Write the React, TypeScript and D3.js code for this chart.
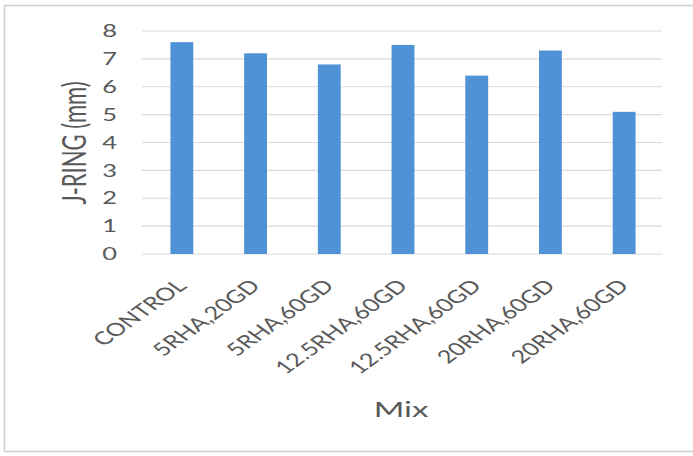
import React from "react";
import * as d3 from "d3";

const categories = [
  "CONTROL",
  "5RHA,20GD",
  "5RHA,60GD",
  "12.5RHA,60GD",
  "12.5RHA,60GD",
  "20RHA,60GD",
  "20RHA,60GD",
];
const jRing = [7.6, 7.2, 6.8, 7.5, 6.4, 7.3, 5.1];
const yTicks = [0, 1, 2, 3, 4, 5, 6, 7, 8];

const W = 693;
const H = 456;
const FONT = "Lato, 'Open Sans', sans-serif";
const TEXT = "#595959";
// horizontal stretch applied to labels
const SX = 1.5;
const SX_CAT = 1.4;

export default function App() {
  const idx = categories.map((_, i) => String(i));
  const x = d3
    .scaleBand<string>()
    .domain(idx)
    .range([145, 661])
    .paddingInner(0.69)
    .paddingOuter(0.345);
  const y = d3.scaleLinear().domain([0, 8]).range([254, 31]);

  return (
    <svg
      width={W}
      height={H}
      style={{ position: "absolute", left: 0, top: 0, background: "#fff" }}
    >
      <rect x={0} y={0} width={W} height={H} fill="#fff" />
      {/* chart frame */}
      <rect
        x={4.5}
        y={5.5}
        width={W + 10}
        height={446}
        fill="#fff"
        stroke="#cfcfcf"
        strokeWidth={1.5}
      />
      {/* gridlines */}
      {yTicks.map((t) => (
        <line
          key={"g" + t}
          x1={142}
          x2={662}
          y1={y(t)}
          y2={y(t)}
          stroke="#dadada"
          strokeWidth={1.2}
        />
      ))}
      {/* bars */}
      {jRing.map((v, i) => (
        <rect
          key={"b" + i}
          x={x(String(i))!}
          y={y(v)}
          width={x.bandwidth()}
          height={y(0) - y(v)}
          fill="#4f93d6"
        />
      ))}
      {/* y tick labels */}
      {yTicks.map((t) => (
        <text
          key={"t" + t}
          transform={`translate(117,${y(t)}) scale(${SX},1)`}
          dy="0.36em"
          textAnchor="end"
          fontFamily={FONT}
          fontSize={17}
          fill={TEXT}
        >
          {t}
        </text>
      ))}
      {/* y axis title */}
      <text
        transform={`translate(74,143) scale(${SX},1) rotate(-90)`}
        dy="0.36em"
        textAnchor="middle"
        fontFamily={FONT}
        fontSize={22}
        fill={TEXT}
      >
        J-RING (mm)
      </text>
      {/* category labels */}
      {categories.map((c, i) => {
        const cx = x(String(i))! + x.bandwidth() / 2;
        return (
          <text
            key={"c" + i}
            transform={`translate(${cx + 6},${287}) scale(${SX_CAT},1) rotate(-45)`}
            textAnchor="end"
            fontFamily={FONT}
            fontSize={18}
            fill={TEXT}
          >
            {c}
          </text>
        );
      })}
      {/* x axis title */}
      <text
        transform={`translate(401,417) scale(${SX},1)`}
        textAnchor="middle"
        fontFamily={FONT}
        fontSize={22}
        fill={TEXT}
      >
        Mix
      </text>
    </svg>
  );
}
